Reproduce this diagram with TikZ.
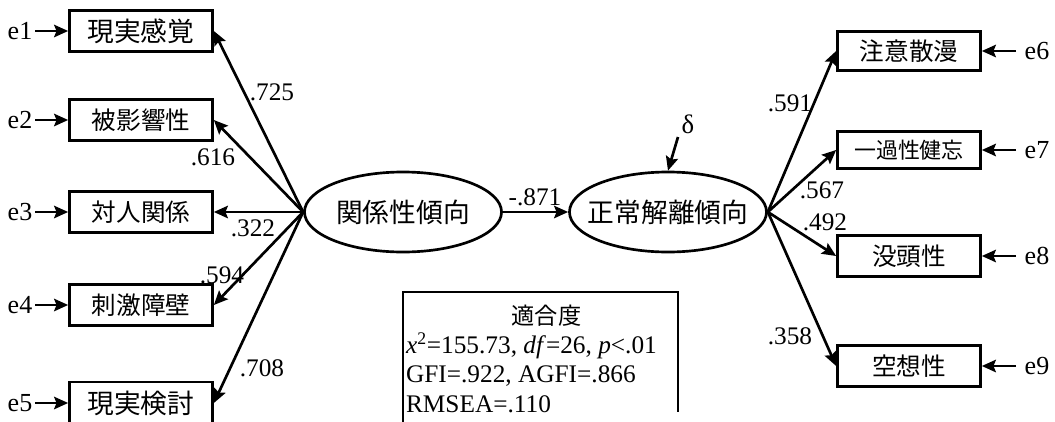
\documentclass[tikz,border=0pt]{standalone}
\usepackage{fontspec}
\setmainfont{Liberation Serif}
\newfontfamily\jp{Noto Sans CJK JP}
\usetikzlibrary{arrows.meta, shapes.geometric, positioning}

\begin{document}
\begin{tikzpicture}[
  x=0.025cm, y=-0.025cm,
  obs/.style={draw, line width=1.9pt, minimum width=3.575cm, minimum height=1.02cm, inner sep=0pt, font=\jp\fontsize{17.5}{20}\selectfont},
  lat/.style={draw, ellipse, line width=1.9pt, minimum width=4.925cm, minimum height=2cm, inner xsep=-0.3cm, inner ysep=0pt, font=\jp\fontsize{19}{22}\selectfont},
  err/.style={inner sep=2pt, font=\fontsize{18.5}{21}\selectfont},
  coef/.style={inner sep=1pt, font=\fontsize{18}{20}\selectfont},
  fitbox/.style={inner xsep=2pt, inner ysep=8pt, font=\fontsize{18}{20.9}\selectfont},
  arrow/.style={-{Stealth[length=3.5mm, width=3.1mm, inset=0.6mm]}, line width=1.9pt}
]
\useasboundingbox (0,0) rectangle (1055,422);
\clip (0,0) rectangle (1055,422);

% latent variables
\node[lat] (rel) at (403,212) {関係性傾向};
\node[lat] (dis) at (668,212) {正常解離傾向};

% indicators, left
\node[obs, font=\jp\fontsize{19}{22}\selectfont] (b1) at (141,31) {現実感覚};
\node[obs] (b2) at (141,120) {被影響性};
\node[obs] (b3) at (141,212) {対人関係};
\node[obs] (b4) at (141,305) {刺激障壁};
\node[obs, font=\jp\fontsize{19}{22}\selectfont, minimum height=1.05cm] (b5) at (141,403) {現実検討};

% indicators, right
\node[obs, minimum height=0.98cm] (b6) at (909,51) {注意散漫};
\node[obs, minimum height=0.92cm, font=\jp\fontsize{15.6}{18}\selectfont] (b7) at (909,150) {一過性健忘};
\node[obs] (b8) at (909,256) {没頭性};
\node[obs] (b9) at (909,366) {空想性};

% errors
\node[err] (e1) at (20,31) {e1};
\node[err] (e2) at (20,120) {e2};
\node[err] (e3) at (20,212) {e3};
\node[err] (e4) at (20,305) {e4};
\node[err] (e5) at (20,403) {e5};
\node[err] (e6) at (1037,51) {e6};
\node[err] (e7) at (1037,150) {e7};
\node[err] (e8) at (1037,256) {e8};
\node[err] (e9) at (1037,366) {e9};

\foreach \i in {1,...,5}
  \draw[arrow] (e\i) -- (b\i);
\foreach \i in {6,...,9}
  \draw[arrow, shorten <=4pt] (e\i) -- (b\i);

% paths
\foreach \i in {1,...,5}
  \draw[arrow] (rel.west) -- (b\i.east);
\foreach \i in {6,...,9}
  \draw[arrow] (dis.east) -- (b\i.west);
\draw[arrow] (rel) -- (dis);

\node[coef, font=\fontsize{19}{21}\selectfont] (delta) at (688,124) {δ};
\coordinate (dtail) at (678,137);
\draw[arrow] (dtail) -- (dis.north);

% coefficients
\node[coef] (c1) at (272,92) {.725};
\node[coef] (c2) at (213,157) {.616};
\node[coef] (c3) at (253,228) {.322};
\node[coef] (c4) at (222,275) {.594};
\node[coef] (c5) at (262,368) {.708};
\node[coef] (c0) at (535,197) {-.871};
\node[coef] (c6) at (790,103) {.591};
\node[coef] (c7) at (822,190) {.567};
\node[coef] (c8) at (825,222) {.492};
\node[coef] (c9) at (790,336) {.358};

% fit indices
\node[fitbox, anchor=north west] (fit) at (403,292) {\begin{tabular}{@{}l@{}}
\multicolumn{1}{@{}c@{}}{\hspace*{0.75cm}\jp\fontsize{16.5}{20}\selectfont 適合度}\\
\textit{x}\textsuperscript{2}=155.73, \textit{df}=26, \textit{p}<.01\\
GFI=.922, AGFI=.866\\
RMSEA=.110
\end{tabular}};
\coordinate (fitne) at ([xshift=6.875cm]fit.north west);
\draw[line width=0.9pt] ([yshift=-1cm]fit.south west) -- (fit.north west) -- (fitne) -- ++(0,120);

\end{tikzpicture}
\end{document}
